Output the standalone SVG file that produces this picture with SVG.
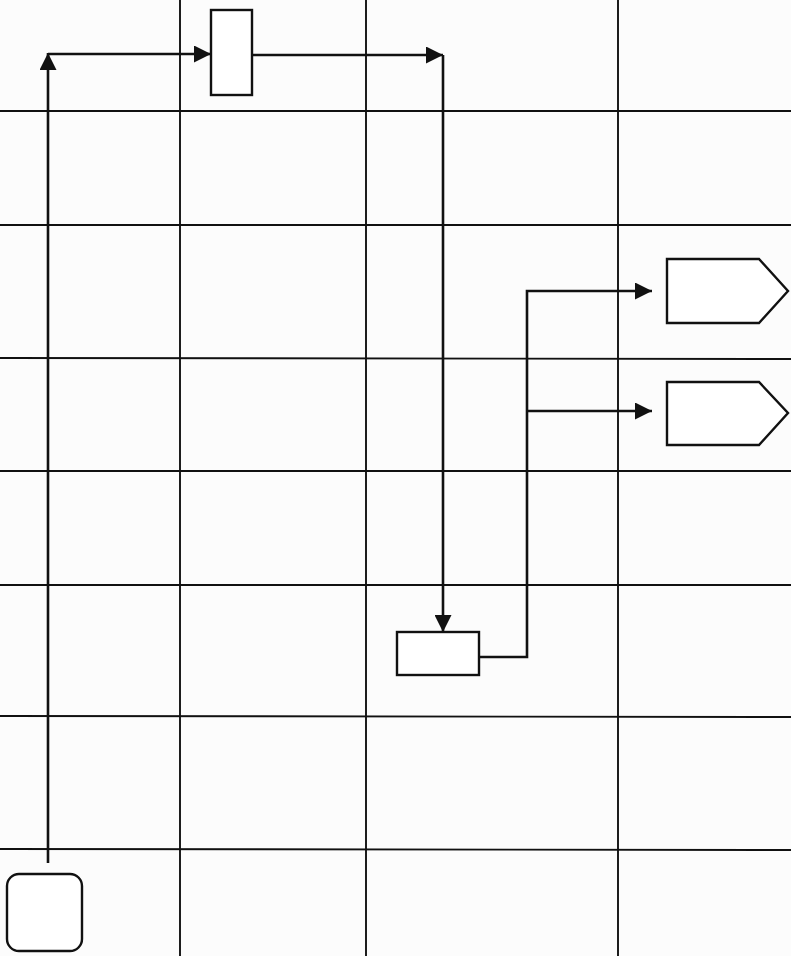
<svg xmlns="http://www.w3.org/2000/svg" width="791" height="956" viewBox="0 0 791 956">
<style>
.grid{stroke:#111;stroke-width:1.9;fill:none}
.node{fill:#fff;stroke:#111;stroke-width:2.4}
.conn{stroke:#111;stroke-width:2.6;fill:none}
</style>
<defs>
<marker id="arr" viewBox="0 0 10 10" refX="10" refY="5" markerWidth="17" markerHeight="17" markerUnits="userSpaceOnUse" orient="auto">
<path d="M0,0 L10,5 L0,10 Z" fill="#111"/>
</marker>
</defs>
<rect width="791" height="956" fill="#fcfcfc"/>
<g id="grid">
<line class="grid" x1="180" y1="0" x2="180" y2="956"/>
<line class="grid" x1="366" y1="0" x2="366" y2="956"/>
<line class="grid" x1="618" y1="0" x2="618" y2="956"/>
<line class="grid" x1="0" y1="111" x2="791" y2="111"/>
<line class="grid" x1="0" y1="225" x2="791" y2="225"/>
<line class="grid" x1="0" y1="358" x2="791" y2="359"/>
<line class="grid" x1="0" y1="471" x2="791" y2="471"/>
<line class="grid" x1="0" y1="585" x2="791" y2="585"/>
<line class="grid" x1="0" y1="716" x2="791" y2="717"/>
<line class="grid" x1="0" y1="849" x2="791" y2="850"/>
</g>
<g id="connectors">
<path class="conn" d="M48,863 L48,53" marker-end="url(#arr)"/>
<path class="conn" d="M48,54 L211,54" marker-end="url(#arr)"/>
<path class="conn" d="M252,55 L443,55" marker-end="url(#arr)"/>
<path class="conn" d="M443,55 L443,632" marker-end="url(#arr)"/>
<path class="conn" d="M479,657 L527,657 L527,291 L652,291" marker-end="url(#arr)"/>
<path class="conn" d="M527,411 L652,411" marker-end="url(#arr)"/>
</g>
<g id="start"><rect class="node" x="7" y="874" width="75" height="77" rx="12"/></g>
<g id="task1"><rect class="node" x="211" y="10" width="41" height="85"/></g>
<g id="task2"><rect class="node" x="397" y="632" width="82" height="43"/></g>
<g id="out1"><path class="node" d="M667,259 L759,259 L788,291 L759,323 L667,323 Z"/></g>
<g id="out2"><path class="node" d="M667,382 L759,382 L788,413 L759,445 L667,445 Z"/></g>
</svg>
